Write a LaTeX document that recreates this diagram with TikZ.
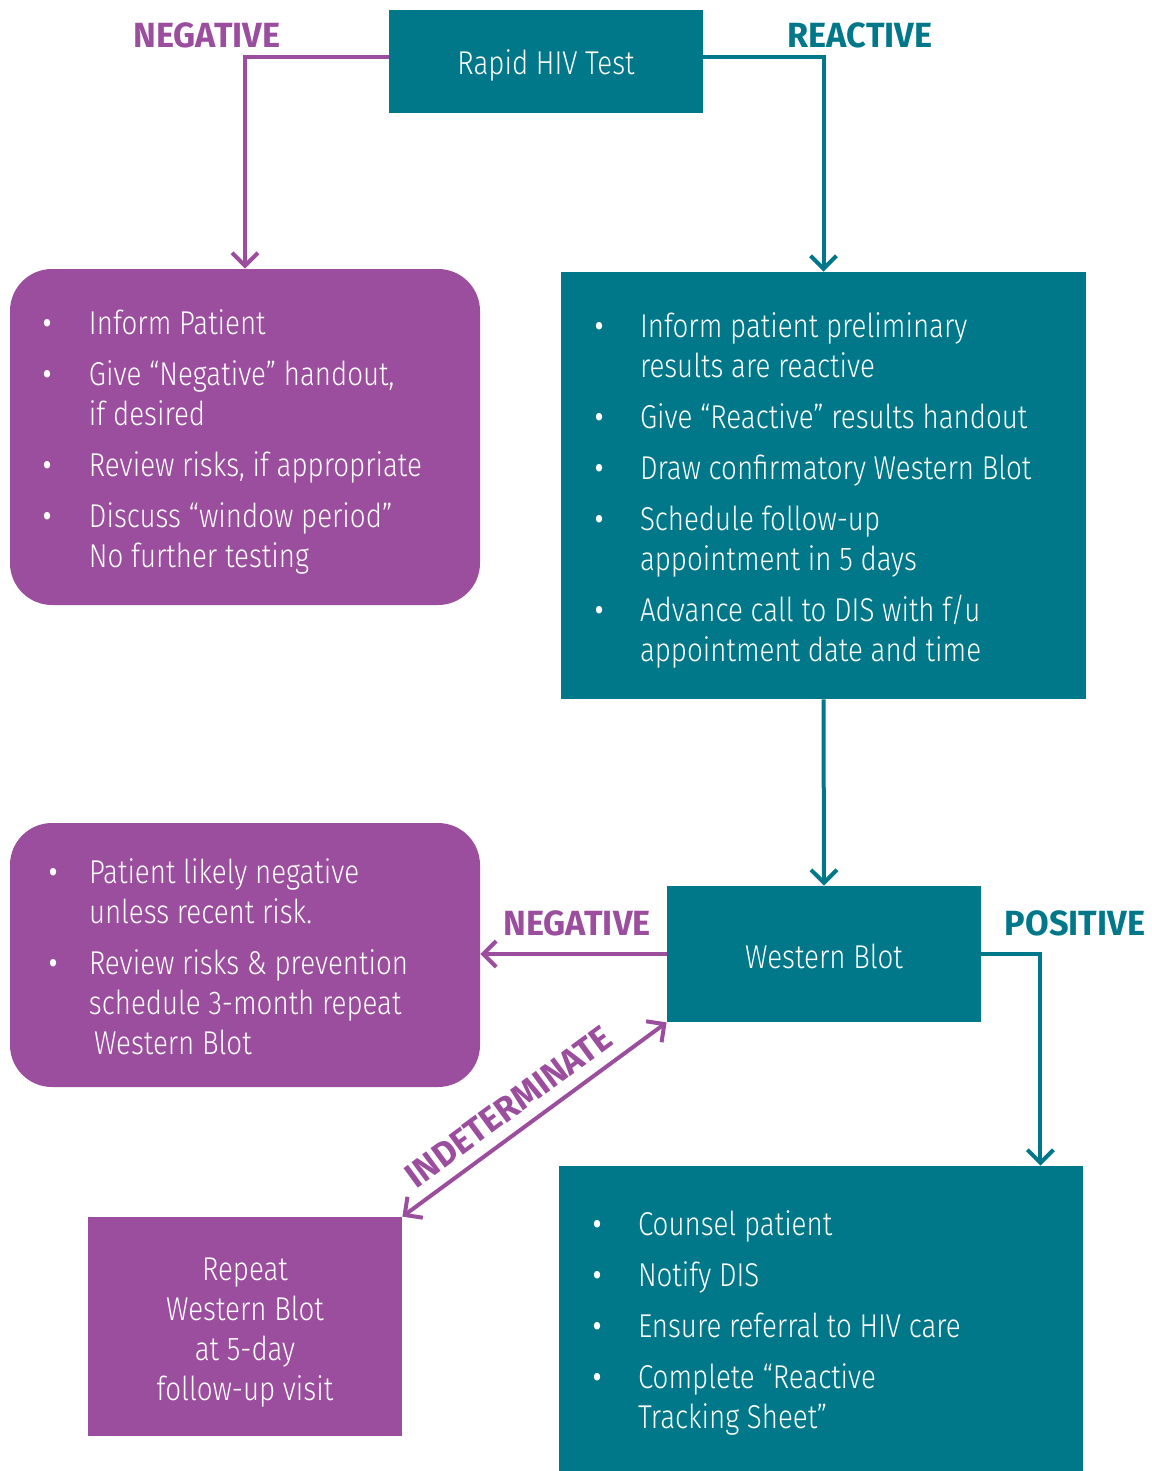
\documentclass[tikz,border=0pt]{standalone}
\usepackage{fontspec}
\setmainfont{Fira Sans}[UprightFont=* Light, FakeStretch=0.84]
\newfontfamily\lblfont{Fira Sans}[UprightFont=* Bold, FakeStretch=0.98]
\usetikzlibrary{arrows.meta,positioning}
\definecolor{hivpurple}{RGB}{155,78,157}
\definecolor{hivteal}{RGB}{0,120,138}
\newlength\txtind
\setlength\txtind{39.5pt}
\newcommand\bul{\raisebox{-3pt}{\fontsize{25}{25}\selectfont\textbullet}}
\newcommand\itm[2][16pt]{\noindent\hangindent=\txtind\hangafter=1\makebox[\txtind][l]{\hspace{#1}\bul}#2\par}
% #1 width, #2 raise, #3 items
\newcommand\itemlist[3]{\raisebox{#2}[\height][\depth]{\parbox{#1}{\raggedright\setlength\parskip{5.5pt}#3}}}
\newcommand\lowered[2]{\raisebox{-#1}[\height][\depth]{#2}}

\begin{document}
\begin{tikzpicture}[x=0.5pt,y=-0.5pt,>={Straight Barb[length=6.5pt,width=13pt]},
    box/.style={inner sep=0pt,text=white,font=\fontsize{16.5}{20}\selectfont},
    purpbox/.style={box,fill=hivpurple},
    tealbox/.style={box,fill=hivteal},
    lbl/.style={font=\lblfont\fontsize{17.5}{17.5}\selectfont},
    negline/.style={draw=hivpurple,line width=2pt,->},
    posline/.style={draw=hivteal,line width=2pt,->}]
    \useasboundingbox (0,0) rectangle (1151,1471);

    % boxes
    \node [tealbox,minimum width=157pt,minimum height=51.5pt] (rapid) at (546,61.5) {\lowered{2.2pt}{Rapid HIV Test}};
    \node [purpbox,rounded corners=21pt,minimum width=235pt,minimum height=168pt] (neginfo) at (245,437)
        {\itemlist{235pt}{-2.25pt}{\itm{Inform Patient}\itm{Give “Negative” handout,\newline if desired}\itm{Review risks, if appropriate}\itm{Discuss “window period”\newline No further testing}}};
    \node [tealbox,minimum width=262.5pt,minimum height=213.5pt] (reactinfo) at (823.5,485.5)
        {\itemlist{262.5pt}{-2.5pt}{\itm{Inform patient preliminary\newline results are reactive}\itm{Give “Reactive” results handout}\itm{Draw confirmatory Western Blot}\itm{Schedule follow-up\newline appointment in 5 days}\itm{Advance call to DIS with f/u\newline appointment date and time}}};
    \node [tealbox,minimum width=157pt,minimum height=68pt] (wb) at (824,954) {\lowered{1pt}{Western Blot}};
    \node [purpbox,rounded corners=21pt,minimum width=235pt,minimum height=132pt] (likelyneg) at (245,955)
        {\itemlist{235pt}{-1pt}{\itm[19pt]{Patient likely negative\newline unless recent risk.}\itm[19pt]{Review risks \& prevention\newline schedule 3-month repeat\newline \hspace*{2.5pt}Western Blot}}};
    \node [purpbox,minimum width=157pt,minimum height=109.5pt] (repeat) at (245,1326.5)
        {\lowered{3pt}{\parbox{157pt}{\centering Repeat\\ Western Blot\\ at 5-day\\ follow-up visit}}};
    \node [tealbox,minimum width=262pt,minimum height=152.5pt] (positive) at (821,1318.5)
        {\itemlist{262pt}{-2.25pt}{\itm{Counsel patient}\itm{Notify DIS}\itm{Ensure referral to HIV care}\itm{Complete “Reactive\newline Tracking Sheet”}}};

    % labels
    \node [lbl,text=hivpurple] (neglbl) at (207,35) {NEGATIVE};
    \node [lbl,text=hivteal] (reactlbl) at (860,35) {REACTIVE};
    \node [lbl,text=hivpurple] (wbneglbl) at (577,923) {NEGATIVE};
    \node [lbl,text=hivteal] (poslbl) at (1075,923) {POSITIVE};

    % connectors
    \coordinate (posend) at ([xshift=-21.5pt]positive.north east);
    \draw [negline] ([yshift=2.25pt]rapid.west) -| (neginfo.north);
    \draw [posline] ([yshift=2.25pt]rapid.east) -| (reactinfo.north);
    \draw [posline] (reactinfo.south) -- (wb.north);
    \draw [negline] (wb.west) -- (wb.west -| likelyneg.east);
    \draw [posline] (wb.east) -| (posend);
    \draw [negline,<->] (repeat.north east) -- node [lbl,text=hivpurple,sloped,above=2.5pt,pos=0.46] {INDETERMINATE} (wb.south west);
\end{tikzpicture}
\end{document}
